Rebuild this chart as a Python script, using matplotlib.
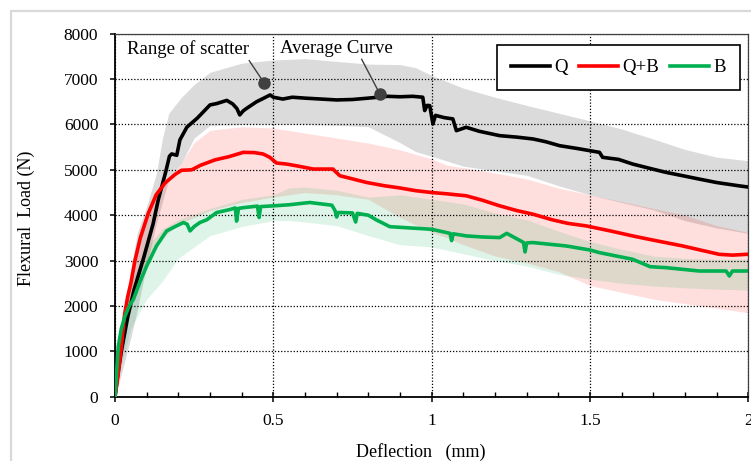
import matplotlib
matplotlib.use("Agg")
import matplotlib.pyplot as plt
from matplotlib.lines import Line2D
from matplotlib.ticker import MultipleLocator

# ---------------- data ----------------
series_names = ["Q", "Q+B", "B"]

q_x = [0, 0.01, 0.02, 0.04, 0.06, 0.09, 0.12, 0.137, 0.16, 0.172, 0.179, 0.19, 0.195, 0.205,
       0.227, 0.26, 0.3, 0.321, 0.353, 0.372, 0.385, 0.394, 0.405, 0.416, 0.447, 0.49, 0.5,
       0.53, 0.56, 0.6, 0.65, 0.7, 0.75, 0.8, 0.83, 0.86, 0.9, 0.94, 0.972, 0.978, 0.986,
       0.994, 1.004, 1.012, 1.04, 1.067, 1.078, 1.109, 1.15, 1.215, 1.27, 1.32, 1.36, 1.404,
       1.46, 1.53, 1.54, 1.59, 1.635, 1.69, 1.74, 1.8, 1.845, 1.9, 1.97, 2.0]
q_y = [0, 550, 1000, 1750, 2350, 3050, 3800, 4350, 4950, 5300, 5350, 5330, 5320, 5660,
       5940, 6140, 6430, 6460, 6530, 6450, 6350, 6210, 6300, 6356, 6500, 6650, 6600,
       6560, 6600, 6580, 6560, 6540, 6550, 6580, 6600, 6620, 6610, 6620, 6600, 6306, 6420,
       6415, 6011, 6200, 6150, 6122, 5863, 5938, 5850, 5753, 5720, 5680, 5620, 5532,
       5470, 5385, 5275, 5230, 5127, 5030, 4944, 4860, 4796, 4720, 4648, 4620]

qb_x = [0, 0.01, 0.02, 0.03, 0.04, 0.05, 0.063, 0.08, 0.105, 0.13, 0.158, 0.19, 0.21, 0.242,
        0.27, 0.316, 0.36, 0.405, 0.44, 0.468, 0.489, 0.51, 0.542, 0.58, 0.626, 0.688, 0.71,
        0.75, 0.794, 0.85, 0.9, 0.95, 1.0, 1.05, 1.11, 1.16, 1.215, 1.27, 1.32, 1.38, 1.43,
        1.488, 1.56, 1.635, 1.7, 1.793, 1.85, 1.908, 1.95, 2.0]
qb_y = [0, 500, 1100, 1800, 2200, 2500, 3000, 3500, 4040, 4450, 4710, 4900, 4990, 5000,
        5100, 5220, 5290, 5385, 5380, 5348, 5275, 5150, 5127, 5080, 5017, 5017, 4870,
        4800, 4722, 4650, 4600, 4540, 4500, 4470, 4427, 4330, 4206, 4100, 4022, 3900, 3820,
        3764, 3660, 3543, 3450, 3322, 3230, 3138, 3120, 3140]

b_x = [0, 0.0105, 0.02, 0.0315, 0.045, 0.058, 0.08, 0.1, 0.131, 0.163, 0.19, 0.216, 0.228,
       0.237, 0.25, 0.268, 0.29, 0.321, 0.36, 0.38, 0.384, 0.39, 0.41, 0.45, 0.455, 0.46,
       0.5, 0.55, 0.615, 0.65, 0.685, 0.695, 0.7, 0.705, 0.75, 0.76, 0.765, 0.8, 0.826,
       0.868, 0.953, 1.0, 1.058, 1.063, 1.068, 1.11, 1.16, 1.215, 1.237, 1.29, 1.295, 1.3,
       1.32, 1.425, 1.5, 1.53, 1.635, 1.69, 1.74, 1.845, 1.93, 1.94, 1.95, 2.0]
b_y = [0, 1112, 1500, 1775, 2000, 2144, 2550, 2880, 3322, 3653, 3750, 3838, 3800,
       3653, 3750, 3838, 3900, 4059, 4120, 4160, 3870, 4150, 4170, 4200, 3950, 4190,
       4206, 4230, 4280, 4250, 4220, 4100, 3960, 4060, 4050, 3850, 4040, 4000, 3894,
       3747, 3710, 3690, 3600, 3440, 3590, 3543, 3520, 3507, 3600, 3400, 3190, 3390,
       3397, 3322, 3233, 3175, 3028, 2865, 2844, 2770, 2770, 2660, 2770, 2770]

# scatter ranges
q_band_x = [0, 0.02, 0.05, 0.07, 0.1, 0.13, 0.15, 0.17, 0.21, 0.25, 0.3, 0.4, 0.5, 0.6, 0.7,
            0.8, 0.9, 0.95, 1.0, 1.1, 1.2, 1.3, 1.4, 1.5, 1.6, 1.7, 1.8, 1.9, 2.0]
q_band_hi = [0, 1300, 2800, 3600, 4200, 4900, 5700, 6250, 6600, 6880, 7150, 7350, 7420, 7450,
             7390, 7330, 7320, 7250, 7080, 6800, 6600, 6420, 6250, 6080, 5900, 5680, 5450,
             5280, 5200]
q_band_lo = [0, 500, 1300, 1900, 2900, 3800, 4300, 4800, 5150, 5700, 5980, 6000, 6010, 6000,
             5980, 5950, 5600, 5400, 5300, 5080, 4980, 4880, 4650, 4450, 4280, 4120, 3880,
             3720, 3600]

qb_band_x = [0, 0.03, 0.06, 0.1, 0.15, 0.2, 0.25, 0.3, 0.4, 0.5, 0.6, 0.7, 0.8, 0.9, 1.0,
             1.05, 1.1, 1.2, 1.3, 1.4, 1.5, 1.6, 1.7, 1.8, 1.9, 2.0]
qb_band_hi = [0, 1900, 2900, 4100, 4650, 5050, 5600, 5870, 5950, 5920, 5810, 5700, 5590,
              5440, 5240, 5100, 5050, 4930, 4800, 4600, 4450, 4300, 4150, 4000, 3770, 3620]
qb_band_lo = [0, 1500, 2400, 3000, 3500, 3800, 3950, 4100, 4280, 4400, 4500, 4450, 4350,
              3950, 3620, 3500, 3350, 3100, 2950, 2760, 2450, 2300, 2150, 2050, 1950, 1850]

b_band_x = [0, 0.02, 0.05, 0.1, 0.15, 0.2, 0.3, 0.4, 0.5, 0.55, 0.6, 0.7, 0.8, 0.9, 1.0,
            1.1, 1.2, 1.3, 1.4, 1.5, 1.6, 1.7, 1.8, 1.9, 2.0]
b_band_hi = [0, 1500, 2500, 3300, 3700, 3900, 4150, 4350, 4450, 4600, 4620, 4550, 4400,
             4450, 4350, 4250, 4050, 3900, 3650, 3420, 3250, 3100, 3050, 3030, 3030]
b_band_lo = [0, 700, 1500, 2150, 2550, 3050, 3550, 3750, 3880, 3880, 3850, 3770, 3550,
             3350, 3300, 3150, 3000, 2880, 2700, 2590, 2500, 2440, 2400, 2370, 2350]

x_ticks = [0, 0.5, 1, 1.5, 2]
x_tick_labels = ["0", "0.5", "1", "1.5", "2"]
y_ticks = [0, 1000, 2000, 3000, 4000, 5000, 6000, 7000, 8000]

# ---------------- plot ----------------
plt.rcParams["font.family"] = ["Liberation Serif", "DejaVu Serif"]

W, H = 751, 461
fig = plt.figure(figsize=(W / 100, H / 100), dpi=100)
ax = fig.add_axes([115 / W, 1 - 396.7 / H, (748.3 - 115) / W, (396.7 - 33.7) / H])

col_q, col_qb, col_b = "black", "#ff0000", "#00b050"

ax.fill_between(q_band_x, q_band_lo, q_band_hi, color="black", alpha=0.14, lw=0, zorder=1)
ax.fill_between(qb_band_x, qb_band_lo, qb_band_hi, color=col_qb, alpha=0.13, lw=0, zorder=1)
ax.fill_between(b_band_x, b_band_lo, b_band_hi, color=col_b, alpha=0.13, lw=0, zorder=1)

lw = 2.6
lq, = ax.plot(q_x, q_y, color=col_q, lw=lw, zorder=3, label=series_names[0])
lqb, = ax.plot(qb_x, qb_y, color=col_qb, lw=lw, zorder=3, label=series_names[1])
lb, = ax.plot(b_x, b_y, color=col_b, lw=lw, zorder=3, label=series_names[2])

ax.set_xlim(0, 2)
ax.set_ylim(0, 8000)
ax.set_xticks(x_ticks)
ax.set_xticklabels(x_tick_labels)
ax.set_yticks(y_ticks)
ax.xaxis.set_minor_locator(MultipleLocator(0.1))

ax.set_axisbelow("line")
ax.grid(True, which="major", color="black", linestyle=(0, (1, 1.5)), lw=0.9)

ax.tick_params(axis="x", which="major", direction="inout", length=7.2, width=1.1,
               labelsize=12.5, pad=8, top=False)
ax.tick_params(axis="x", which="minor", direction="in", length=3.6, width=1.0, top=False)
ax.tick_params(axis="y", which="major", direction="out", length=3.6, width=1.1,
               labelsize=12.5, pad=8.4, right=False)

for s in ["left", "bottom"]:
    ax.spines[s].set_color("black")
    ax.spines[s].set_linewidth(1.3)
for s in ["top", "right"]:
    ax.spines[s].set_color("#404040")
    ax.spines[s].set_linewidth(0.9)

# annotations
ann_col = "#404040"
ax.text(0.038, 7663, "Range of scatter", fontsize=13.5, va="center", ha="left", zorder=5)
ax.plot([0.424, 0.4705], [7405, 6920], color=ann_col, lw=1.0, zorder=5)
ax.plot([0.4705], [6920], "o", ms=8, color=ann_col, zorder=5)
ax.text(0.521, 7663, "Average Curve", fontsize=13.5, va="center", ha="left", zorder=5)
ax.plot([0.779, 0.837], [7436, 6664], color=ann_col, lw=1.0, zorder=5)
ax.plot([0.837], [6664], "o", ms=8, color=ann_col, zorder=5)

leg = ax.legend(handles=[lq, lqb, lb], loc="upper right",
                bbox_to_anchor=(740 / W, 1 - 45 / H), bbox_transform=fig.transFigure,
                ncol=3, frameon=True, fancybox=False, edgecolor="black", framealpha=1,
                handlelength=2.05, handletextpad=0.25, columnspacing=0.6, borderpad=0.75,
                borderaxespad=0, fontsize=13.5)
leg.get_frame().set_linewidth(1.2)
leg.set_zorder(6)

fig.text(421 / W, 1 - 452 / H, "Deflection   (mm)", ha="center", va="center", fontsize=13)
fig.text(26 / W, 1 - 218 / H, "Flexural  Load (N)", ha="center", va="center",
         rotation=90, fontsize=13)

# light outer border
fig.add_artist(Line2D([10.5 / W, 10.5 / W, 1.0], [0, 1 - 11.5 / H, 1 - 11.5 / H],
                      transform=fig.transFigure, color="#d9d9d9", lw=1.6))

fig.savefig("out.png", dpi=100)
